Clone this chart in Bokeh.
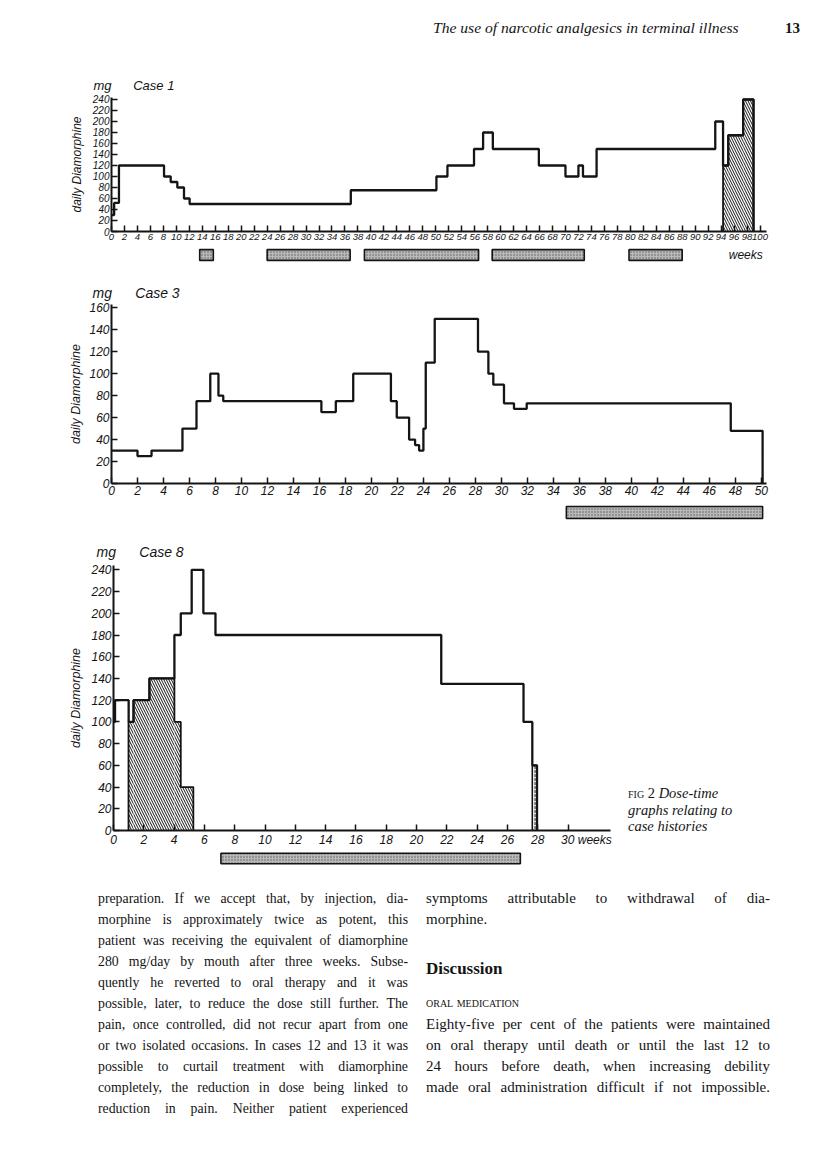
from bokeh.plotting import figure
from bokeh.models import FixedTicker, Label, Div, Title
from bokeh.layouts import column, row
from bokeh.embed import file_html
from bokeh.resources import INLINE

# ---------------- data (weeks / mg per day) ----------------
# Case 1: step edges (weeks) and dose from that edge onward (last value 0 = end)
c1_weeks = [0, 0.41, 1.15, 8.1, 9.13, 10.15, 11.18, 12.05, 36.9, 50.1, 51.8, 55.9,
            57.3, 58.8, 65.9, 70.0, 72.0, 72.7, 74.8, 93.1, 94.3, 95.1, 97.4, 99.0]
c1_dose = [30, 52, 120, 100, 90, 80, 60, 50, 75, 100, 120, 150,
           180, 150, 120, 100, 120, 100, 150, 200, 120, 175, 240, 0]
c1_hatch_from = 94.3
c1_hatch_to = 99.0
c1_bar_start = [13.6, 24.0, 39.0, 58.7, 79.8]
c1_bar_end = [15.7, 36.8, 56.6, 72.9, 88.0]
c1_xticks = list(range(0, 101, 2))
c1_yticks = list(range(0, 241, 20))

# Case 3
c3_weeks = [0, 2.0, 3.08, 5.46, 6.54, 7.6, 8.23, 8.6, 16.15, 17.26, 18.6, 21.5, 21.95,
            22.9, 23.36, 23.67, 24.0, 24.18, 24.87, 28.2, 29.0, 29.38, 30.2, 30.97,
            31.95, 47.65, 50.1]
c3_dose = [30, 25, 30, 50, 75, 100, 80, 75, 65, 75, 100, 75, 60,
           40, 35, 30, 50, 110, 150, 120, 100, 90, 73, 68,
           73, 48, 0]
c3_bar_start = [35.0]
c3_bar_end = [50.1]
c3_xticks = list(range(0, 51, 2))
c3_yticks = list(range(0, 161, 20))

# Case 8
c8_weeks = [0, 0.1, 1.0, 1.32, 2.37, 4.02, 4.44, 5.16, 5.93, 6.73, 21.63, 27.06, 27.64, 27.95]
c8_dose = [100, 120, 100, 120, 140, 180, 200, 240, 200, 180, 135, 100, 60, 0]
c8_hatch_weeks = [0.99, 1.32, 2.37, 4.02, 4.44, 5.27]
c8_hatch_dose = [100, 120, 140, 100, 40]
c8_end_weeks = [27.64, 27.95]
c8_end_dose = [60]
c8_bar_start = [7.09]
c8_bar_end = [26.85]
c8_xticks = list(range(0, 31, 2))
c8_yticks = list(range(0, 241, 20))

# ---------------- styling ----------------
INK = "#141414"
SANS = "Liberation Sans"
NBSP = "\u00a0"


def make_plot(width, height, xr, yr, borders, xticks, yticks, xsize, ysize):
    left, right, top, bottom = borders
    p = figure(width=width, height=height, x_range=xr, y_range=yr,
               output_backend="svg", toolbar_location=None, title=None,
               min_border_left=left, min_border_right=right,
               min_border_top=top, min_border_bottom=bottom)
    p.outline_line_color = None
    p.grid.visible = False
    p.background_fill_color = "white"
    p.border_fill_color = "white"
    for ax, ticks, size in ((p.xaxis, xticks, xsize), (p.yaxis, yticks, ysize)):
        ax.ticker = FixedTicker(ticks=ticks)
        ax.axis_line_width = 2
        ax.axis_line_color = INK
        ax.major_tick_in = 6
        ax.major_tick_out = 0
        ax.major_tick_line_width = 1.5
        ax.major_tick_line_color = INK
        ax.minor_tick_line_color = None
        ax.major_label_text_font = SANS
        ax.major_label_text_font_style = "italic"
        ax.major_label_text_font_size = size
        ax.major_label_text_color = INK
        ax.major_label_standoff = 2
    return p


def decorate(p, case_text, offset, gap, title_size, standoff, label_size, label_standoff):
    p.add_layout(Title(text="mg" + NBSP * gap + case_text, align="left", offset=offset,
                       text_font=SANS, text_font_style="italic", text_font_size=title_size,
                       text_color=INK, standoff=standoff), "above")
    p.yaxis.axis_label = "daily Diamorphine"
    p.yaxis.axis_label_text_font = SANS
    p.yaxis.axis_label_text_font_style = "italic"
    p.yaxis.axis_label_text_font_size = label_size
    p.yaxis.axis_label_text_color = INK
    p.yaxis.axis_label_standoff = label_standoff


def make_strip(width, height, xr, borders):
    left, right = borders
    s = figure(width=width, height=height, x_range=xr, y_range=(0, 1),
               output_backend="svg", toolbar_location=None, title=None,
               x_axis_location=None, y_axis_location=None,
               min_border_left=left, min_border_right=right,
               min_border_top=0, min_border_bottom=0)
    s.outline_line_color = None
    s.grid.visible = False
    s.background_fill_color = "white"
    s.border_fill_color = "white"
    return s


def add_bars(s, starts, ends, bottom, top):
    s.quad(left=starts, right=ends, bottom=bottom, top=top,
           fill_color="#b9b9b9", line_color=INK, line_width=1.6,
           hatch_pattern="dot", hatch_color="#5a5a5a", hatch_scale=3, hatch_weight=1)


def add_hatch(p, edges, vals, pattern="left_diagonal_line"):
    p.quad(left=edges[:-1], right=edges[1:], bottom=0, top=vals,
           fill_color="white", line_color=None,
           hatch_pattern=pattern, hatch_color=INK, hatch_scale=5, hatch_weight=1)
    p.step(x=[edges[0]] + list(edges), y=[0] + list(vals) + [0],
           mode="after", line_color=INK, line_width=1.8)


# ---------------- Case 1 ----------------
p1 = make_plot(800, 202, (0, 101), (0, 243.6), (102, 42, 52, 16),
               c1_xticks, c1_yticks, "9.5px", "10px")
i_from = c1_weeks.index(c1_hatch_from)
i_to = c1_weeks.index(c1_hatch_to)
add_hatch(p1, c1_weeks[i_from:i_to + 1], c1_dose[i_from:i_to])
p1.step(x=c1_weeks, y=c1_dose, mode="after", line_color=INK, line_width=2.3)
decorate(p1, "Case 1", -18, 6, "13px", 9, "12px", 6)

s1 = make_strip(800, 19, p1.x_range, (102, 42))
add_bars(s1, c1_bar_start, c1_bar_end, 0.32, 0.89)
s1.add_layout(Label(x=97.8, y=0.6, text="weeks", text_font=SANS, text_font_style="italic",
                    text_font_size="12px", text_align="center", text_baseline="middle",
                    text_color=INK))

# ---------------- Case 3 ----------------
p3 = make_plot(800, 235, (0, 50.4), (0, 163), (103, 42, 38, 18),
               c3_xticks, c3_yticks, "12px", "12px")
p3.step(x=c3_weeks, y=c3_dose, mode="after", line_color=INK, line_width=2.3)
decorate(p3, "Case 3", -19, 6, "14px", 8, "12.5px", 3)

s3 = make_strip(800, 21, p3.x_range, (103, 42))
add_bars(s3, c3_bar_start, c3_bar_end, 0.19, 0.76)

# ---------------- Case 8 ----------------
p8 = make_plot(620, 327, (0, 32.8), (0, 244), (105, 18, 43, 17),
               c8_xticks, c8_yticks, "12px", "12px")
add_hatch(p8, c8_hatch_weeks, c8_hatch_dose)
p8.quad(left=c8_end_weeks[:-1], right=c8_end_weeks[1:], bottom=0, top=c8_end_dose,
        fill_color="white", line_color=INK, line_width=1.6,
        hatch_pattern="vertical_dash", hatch_color=INK, hatch_scale=4, hatch_weight=1)
p8.step(x=c8_weeks, y=c8_dose, mode="after", line_color=INK, line_width=2.3)
decorate(p8, "Case 8", -17, 6, "14px", 12, "12.5px", 5)
p8.xaxis.major_label_overrides = {30: NBSP * 11 + "30 weeks"}

s8 = make_strip(620, 19, p8.x_range, (105, 18))
add_bars(s8, c8_bar_start, c8_bar_end, 0.25, 0.8)

# ---------------- page texts ----------------
header = Div(width=800, height=37, margin=0, text=(
    "<div style='position:relative;width:800px;height:37px;color:#141414'>"
    "<span style=\"position:absolute;left:425px;top:10px;line-height:20px;white-space:nowrap;"
    "font-family:'Liberation Serif',serif;font-style:italic;font-size:15.6px\">"
    "The use of narcotic analgesics in terminal illness</span>"
    "<span style=\"position:absolute;left:777px;top:10px;line-height:20px;"
    "font-family:'Liberation Serif',serif;font-weight:bold;font-size:15px\">13</span>"
    "</div>"))

caption = Div(width=180, height=346, margin=0, text=(
    "<div style=\"position:relative;width:180px;height:346px;color:#141414;"
    "font-family:'Liberation Serif',serif;font-size:14.5px;line-height:16.5px\">"
    "<div style='position:absolute;left:0px;top:263px;white-space:nowrap'>"
    "<span style='font-variant:small-caps'>fig 2</span> <i>Dose-time</i><br>"
    "<i>graphs relating to</i><br><i>case histories</i></div></div>"))

left_lines = [
    "preparation. If we accept that, by injection, dia-",
    "morphine is approximately twice as potent, this",
    "patient was receiving the equivalent of diamorphine",
    "280 mg/day by mouth after three weeks. Subse-",
    "quently he reverted to oral therapy and it was",
    "possible, later, to reduce the dose still further. The",
    "pain, once controlled, did not recur apart from one",
    "or two isolated occasions. In cases 12 and 13 it was",
    "possible to curtail treatment with diamorphine",
    "completely, the reduction in dose being linked to",
    "reduction in pain. Neither patient experienced",
]
right_items = [
    ("symptoms attributable to withdrawal of dia-", 30, "j"),
    ("morphine.", 51, "l"),
    ("Discussion", 100, "h"),
    ("oral medication", 134, "s"),
    ("Eighty-five per cent of the patients were maintained", 156, "j"),
    ("on oral therapy until death or until the last 12 to", 177, "j"),
    ("24 hours before death, when increasing debility", 198, "j"),
    ("made oral administration difficult if not impossible.", 219, "j"),
]


def line_div(text, left, width, center, size, kind):
    base = (f"position:absolute;left:{left}px;top:{center - 10.5}px;width:{width}px;"
            f"height:21px;line-height:21px;font-size:{size}px;")
    if kind == "j":
        base += "text-align:justify;text-align-last:justify;"
    elif kind == "h":
        base += "font-weight:bold;font-size:17px;"
    elif kind == "s":
        base += "font-variant:small-caps;font-size:14px;"
    return f"<div style=\"{base}\">{text}</div>"


body_html = ("<div style=\"position:relative;width:800px;height:265px;color:#141414;"
             "font-family:'Liberation Serif',serif\">")
for k, t in enumerate(left_lines):
    body_html += line_div(t, 90, 310, 30 + 21 * k, 13.8, "j")
for t, c, kind in right_items:
    body_html += line_div(t, 418, 344, c, 15, kind)
body_html += "</div>"
body = Div(width=800, height=265, margin=0, text=body_html)

layout = column(
    header, p1, s1, p3, s3,
    row(column(p8, s8, spacing=0), caption, spacing=0),
    body, spacing=0, margin=(8, 8, 8, 8))

open("out.html", "w").write(file_html(layout, INLINE))
